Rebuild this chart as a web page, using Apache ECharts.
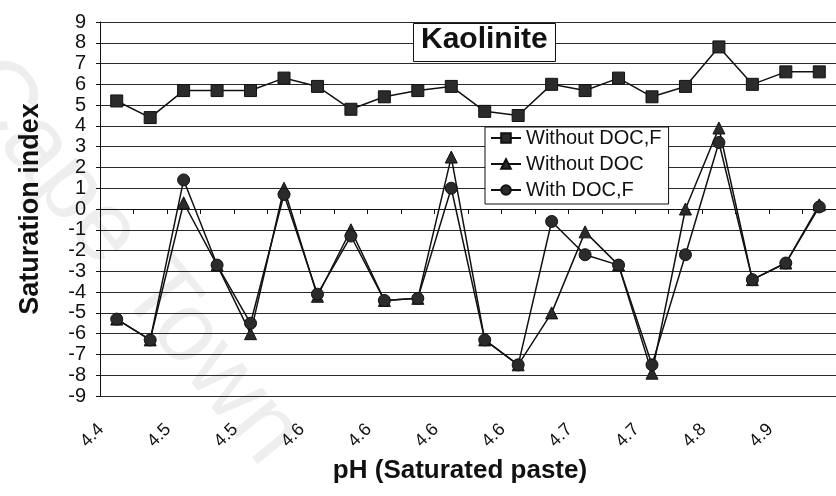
<!DOCTYPE html>
<html>
<head>
<meta charset="utf-8">
<title>Kaolinite saturation index</title>
<script src="https://cdn.jsdelivr.net/npm/echarts@6/dist/echarts.min.js"></script>
<style>
  html, body { margin: 0; padding: 0; background: #fff; }
  #chart { width: 836px; height: 496px; }
</style>
</head>
<body>
<div id="chart"></div>
<script>
// pH of the saturated paste for each sample (labels shown on every second sample)
const phLabels = ['4.4', '4.4', '4.5', '4.5', '4.5', '4.5', '4.6', '4.6', '4.6', '4.6', '4.6',
                  '4.6', '4.6', '4.7', '4.7', '4.7', '4.7', '4.7', '4.8', '4.8', '4.9', '4.9'];

// Kaolinite saturation index per sample
const withoutDocF = [5.2, 4.4, 5.7, 5.7, 5.7, 6.3, 5.9, 4.8, 5.4, 5.7, 5.9,
                     4.7, 4.5, 6.0, 5.7, 6.3, 5.4, 5.9, 7.8, 6.0, 6.6, 6.6];
const withoutDoc  = [-5.3, -6.3, 0.3, -2.7, -6.0, 1.0, -4.2, -1.0, -4.4, -4.3, 2.5,
                     -6.3, -7.5, -5.0, -1.1, -2.7, -7.9, 0.0, 3.9, -3.4, -2.6, 0.2];
const withDocF    = [-5.3, -6.3, 1.4, -2.7, -5.5, 0.7, -4.1, -1.3, -4.4, -4.3, 1.0,
                     -6.3, -7.5, -0.6, -2.2, -2.7, -7.5, -2.2, 3.2, -3.4, -2.6, 0.1];

const seriesNames = ['Without DOC,F', 'Without DOC', 'With DOC,F'];
const yTicks = { min: -9, max: 9, step: 1 };

const FONT = "'Liberation Sans', Arial, sans-serif";
const INK = '#111';
const MARK = '#2b2b2b';

const chart = echarts.init(document.getElementById('chart'), null, { renderer: 'canvas' });

function lineSeries(name, data, symbol, size) {
  return {
    name: name,
    type: 'line',
    data: data,
    symbol: symbol,
    symbolSize: size,
    showAllSymbol: true,
    lineStyle: { color: INK, width: 1.5 },
    itemStyle: { color: MARK, borderColor: INK, borderWidth: 1 },
    emphasis: { disabled: true },
    animation: false
  };
}

chart.setOption({
  backgroundColor: '#fff',
  animation: false,
  textStyle: { fontFamily: FONT },
  graphic: [{
    type: 'text',
    z: -10,
    silent: true,
    x: 12, y: 40,
    rotation: -51 * Math.PI / 180,
    style: {
      text: 'Cape Town',
      font: '98px ' + FONT,
      fill: '#eeeeee'
    }
  }],
  title: {
    text: 'Kaolinite',
    left: 413,
    top: 23,
    padding: [2, 8, 7, 8],
    borderColor: INK,
    borderWidth: 1,
    backgroundColor: '#fff',
    textStyle: { fontFamily: FONT, fontSize: 30, fontWeight: 'bold', color: INK }
  },
  legend: {
    data: seriesNames,
    orient: 'vertical',
    left: 485,
    top: 127,
    padding: [1, 7, 4, 5],
    itemWidth: 30,
    itemHeight: 12,
    itemGap: 6,
    borderColor: INK,
    borderWidth: 1,
    backgroundColor: '#fff',
    textStyle: { fontFamily: FONT, fontSize: 20, color: INK }
  },
  grid: { left: 100, top: 22, width: 736, height: 374, containLabel: false },
  xAxis: {
    type: 'category',
    data: phLabels,
    boundaryGap: true,
    name: 'pH (Saturated paste)',
    nameLocation: 'middle',
    nameGap: 62,
    nameTextStyle: { fontFamily: FONT, fontSize: 26, fontWeight: 'bold', color: INK, padding: [0, 16, 0, 0] },
    axisLine: { lineStyle: { color: INK, width: 1 } },
    axisTick: { show: true, interval: 0, length: 5, lineStyle: { color: INK } },
    axisLabel: {
      interval: 1,
      rotate: 45,
      margin: 15,
      padding: [0, 22, 0, 0],
      fontFamily: FONT,
      fontSize: 18,
      color: INK
    },
    splitLine: { show: false }
  },
  yAxis: {
    type: 'value',
    min: yTicks.min,
    max: yTicks.max,
    interval: yTicks.step,
    name: 'Saturation index',
    nameLocation: 'middle',
    nameRotate: 90,
    nameGap: 56,
    nameTextStyle: { fontFamily: FONT, fontSize: 27, fontWeight: 'bold', color: INK },
    axisLine: { show: true, lineStyle: { color: INK, width: 1 } },
    axisTick: { show: true, inside: false, length: 4, lineStyle: { color: INK } },
    axisLabel: { margin: 14, fontFamily: FONT, fontSize: 20, color: INK },
    splitLine: { show: true, lineStyle: { color: '#2a2a2a', width: 1 } }
  },
  series: [
    lineSeries(seriesNames[0], withoutDocF, 'rect', 12),
    lineSeries(seriesNames[1], withoutDoc, 'triangle', 12),
    lineSeries(seriesNames[2], withDocF, 'circle', 12)
  ]
});
</script>
</body>
</html>
